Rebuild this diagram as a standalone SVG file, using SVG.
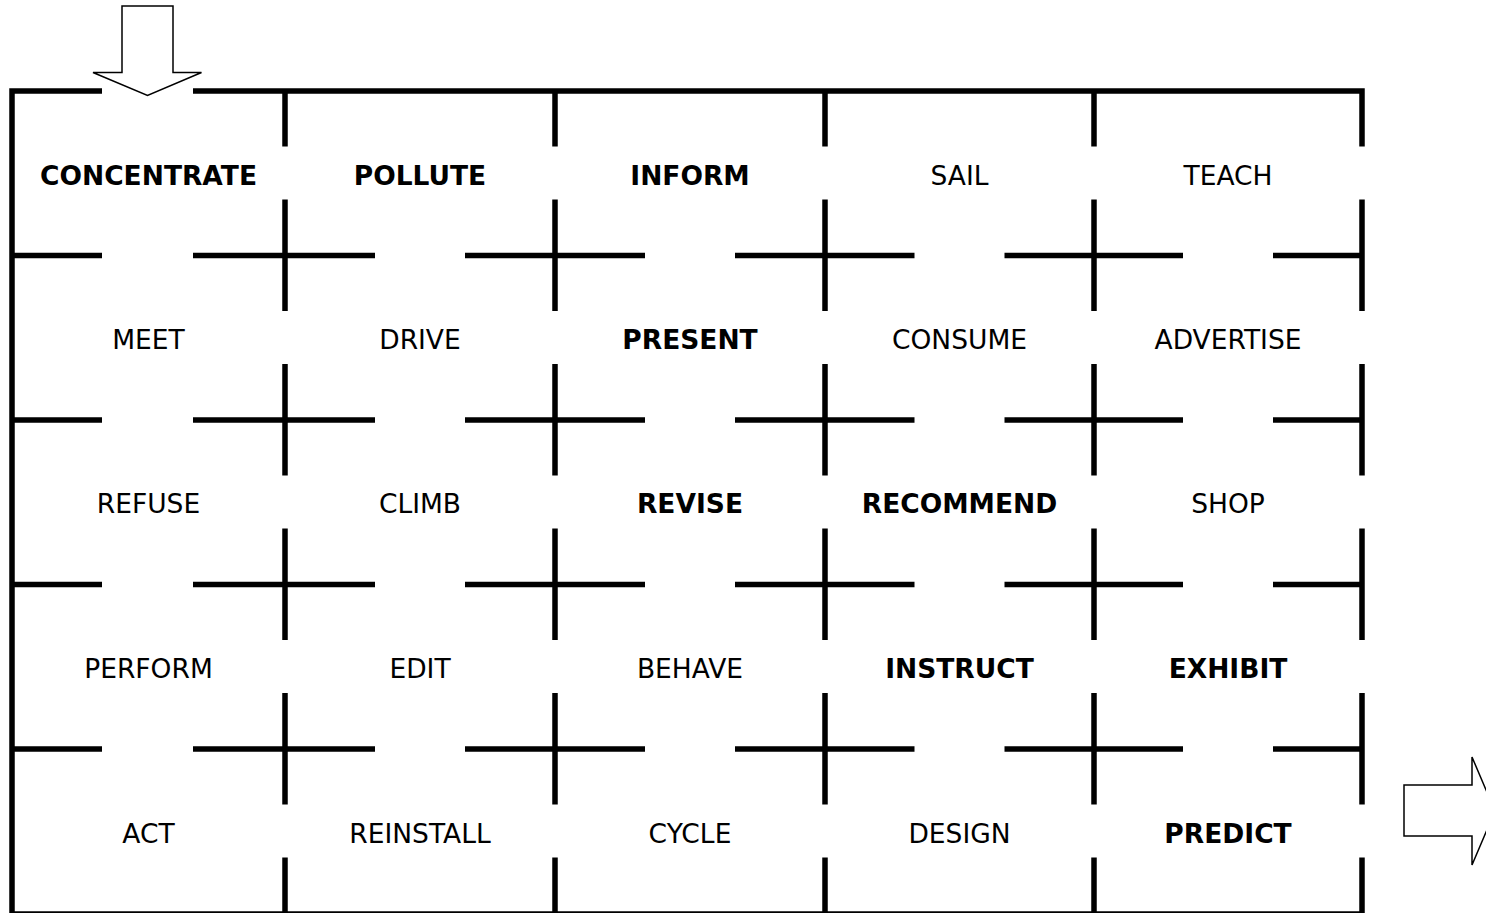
<svg xmlns="http://www.w3.org/2000/svg" width="1486" height="913" viewBox="0 0 1486 913">
<style>
.w{stroke:#000;stroke-width:5.5;fill:none;stroke-linecap:butt;stroke-linejoin:miter}
.t{font-family:"DejaVu Sans",Verdana,sans-serif;font-size:26.5px;fill:#000;text-anchor:middle}
.b{font-weight:bold}
.ar{fill:#fff;stroke:#000;stroke-width:1.5;stroke-linejoin:miter}
</style>
<rect width="1486" height="913" fill="#fff"/>
<g id="walls">
<path class="w" d="M102 91H12V914H1362"/>
<path class="w" d="M193 91H1362V146.5"/>
<path class="w" d="M12 255.5H102M193 255.5H375M465 255.5H645M735 255.5H914.5M1004.5 255.5H1183M1273 255.5H1362"/>
<path class="w" d="M12 420H102M193 420H375M465 420H645M735 420H914.5M1004.5 420H1183M1273 420H1362"/>
<path class="w" d="M12 584.5H102M193 584.5H375M465 584.5H645M735 584.5H914.5M1004.5 584.5H1183M1273 584.5H1362"/>
<path class="w" d="M12 749H102M193 749H375M465 749H645M735 749H914.5M1004.5 749H1183M1273 749H1362"/>
<path class="w" d="M285 91V146.5M285 199.5V311M285 364V475.5M285 528.5V640M285 693V804.5M285 857.5V914"/>
<path class="w" d="M555 91V146.5M555 199.5V311M555 364V475.5M555 528.5V640M555 693V804.5M555 857.5V914"/>
<path class="w" d="M825 91V146.5M825 199.5V311M825 364V475.5M825 528.5V640M825 693V804.5M825 857.5V914"/>
<path class="w" d="M1094 91V146.5M1094 199.5V311M1094 364V475.5M1094 528.5V640M1094 693V804.5M1094 857.5V914"/>
<path class="w" d="M1362 199.5V311M1362 364V475.5M1362 528.5V640M1362 693V804.5M1362 857.5V914"/>
</g>
<g id="arrow-in"><polygon class="ar" points="122,6 173,6 173,72.5 201.5,72.5 147.5,95.5 93,72.5 122,72.5"/></g>
<g id="arrow-out"><polygon class="ar" points="1404,785 1472,785 1472,757 1495,811 1472,865 1472,836 1404,836"/></g>
<g id="r1">
<g id="c-concentrate"><text class="t b" x="148.5" y="184.5">CONCENTRATE</text></g>
<g id="c-pollute"><text class="t b" x="420" y="184.5">POLLUTE</text></g>
<g id="c-inform"><text class="t b" x="690" y="184.5">INFORM</text></g>
<g id="c-sail"><text class="t" x="959.5" y="184.5">SAIL</text></g>
<g id="c-teach"><text class="t" x="1228" y="184.5">TEACH</text></g>
</g>
<g id="r2">
<g id="c-meet"><text class="t" x="148.5" y="348.5">MEET</text></g>
<g id="c-drive"><text class="t" x="420" y="348.5">DRIVE</text></g>
<g id="c-present"><text class="t b" x="690" y="348.5">PRESENT</text></g>
<g id="c-consume"><text class="t" x="959.5" y="348.5">CONSUME</text></g>
<g id="c-advertise"><text class="t" x="1228" y="348.5">ADVERTISE</text></g>
</g>
<g id="r3">
<g id="c-refuse"><text class="t" x="148.5" y="513">REFUSE</text></g>
<g id="c-climb"><text class="t" x="420" y="513">CLIMB</text></g>
<g id="c-revise"><text class="t b" x="690" y="513">REVISE</text></g>
<g id="c-recommend"><text class="t b" x="959.5" y="513">RECOMMEND</text></g>
<g id="c-shop"><text class="t" x="1228" y="513">SHOP</text></g>
</g>
<g id="r4">
<g id="c-perform"><text class="t" x="148.5" y="677.5">PERFORM</text></g>
<g id="c-edit"><text class="t" x="420" y="677.5">EDIT</text></g>
<g id="c-behave"><text class="t" x="690" y="677.5">BEHAVE</text></g>
<g id="c-instruct"><text class="t b" x="959.5" y="677.5">INSTRUCT</text></g>
<g id="c-exhibit"><text class="t b" x="1228" y="677.5">EXHIBIT</text></g>
</g>
<g id="r5">
<g id="c-act"><text class="t" x="148.5" y="842.5">ACT</text></g>
<g id="c-reinstall"><text class="t" x="420" y="842.5">REINSTALL</text></g>
<g id="c-cycle"><text class="t" x="690" y="842.5">CYCLE</text></g>
<g id="c-design"><text class="t" x="959.5" y="842.5">DESIGN</text></g>
<g id="c-predict"><text class="t b" x="1228" y="842.5">PREDICT</text></g>
</g>
</svg>
